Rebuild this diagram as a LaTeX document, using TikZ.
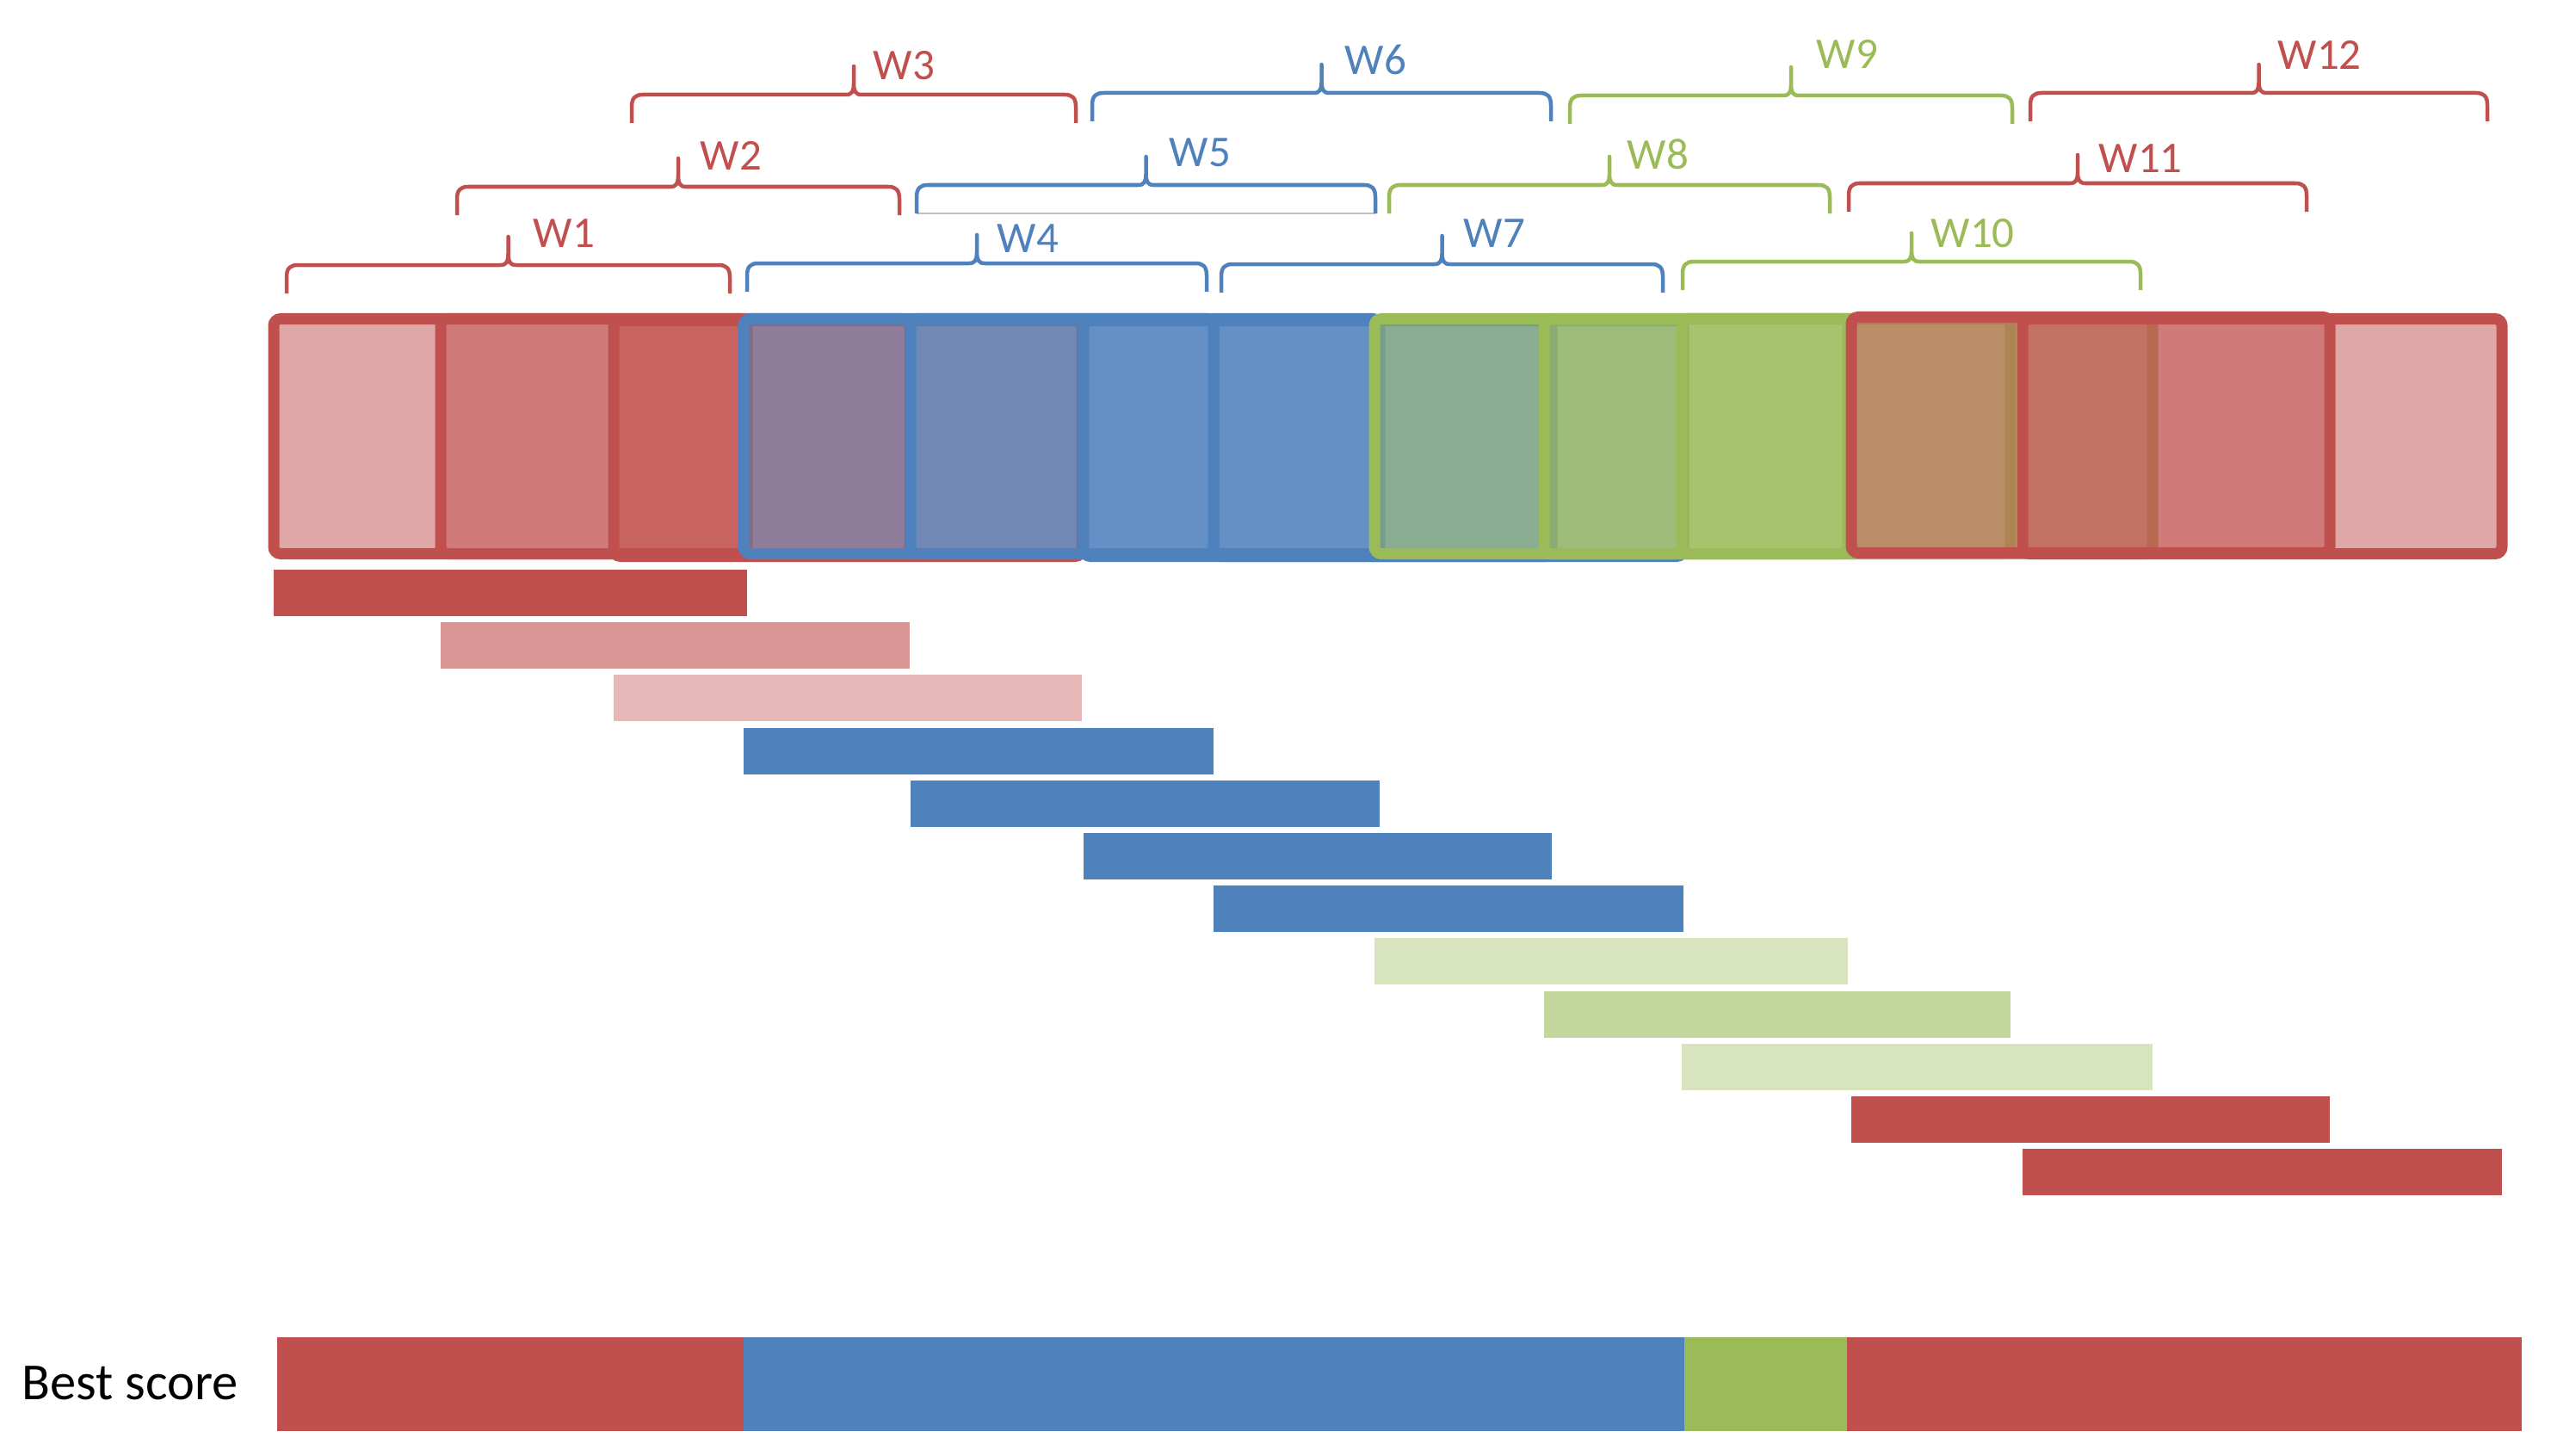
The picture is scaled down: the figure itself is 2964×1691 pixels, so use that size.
\documentclass[tikz,border=0pt]{standalone}
\usepackage{fontspec}
\setmainfont{Carlito}

\definecolor{wred}{HTML}{C0504D}
\definecolor{wblue}{HTML}{4F81BD}
\definecolor{wgreen}{HTML}{9BBB59}
\definecolor{wpink}{HTML}{D99694}
\definecolor{wpinklt}{HTML}{E6B9B8}
\definecolor{wlime}{HTML}{C3D69B}
\definecolor{wlimelt}{HTML}{D7E4BD}

\begin{document}
\begin{tikzpicture}[x=0.01cm, y=-0.01cm,
    winbox/.style={line width=0.13cm, rounded corners=0.08cm, fill opacity=0.5},
    wbrace/.style={line width=0.045cm, line join=round},
    wlabel/.style={anchor=base west, inner sep=0pt, font=\fontsize{14.5}{17}\selectfont}]
    \useasboundingbox (0,0) rectangle (2964,1691);

    % window W5 sits on a thin grey rule
    \draw[black!25, line width=0.02cm] (1065,248) -- (1598,248);

    % each window: box in the strip, bar below it, brace + label above
    \foreach \n/\col/\fil/\xa/\xb/\ya/\yb/\ka/\kb/\ky/\tx/\ty in {
        1/wred/wred/318/868/370.5/643.5/333/848/308/619/287,
        2/wred/wpink/512/1057/370.5/643.5/531/1045/217/813/198,
        3/wred/wpinklt/713/1257/372.5/646.5/734/1250/110/1014/93,
        4/wblue/wblue/864/1410/370.5/643.5/868/1402/306/1158/293,
        5/wblue/wblue/1058/1603/370.5/643.5/1065/1598/215/1358/193,
        6/wblue/wblue/1259/1803/372.5/646.5/1269/1802/108/1562/87,
        7/wblue/wblue/1410/1956/372.5/646.5/1419/1932/307/1700/287,
        8/wgreen/wlimelt/1597/2147/370.5/643.5/1614/2126/215/1890/197,
        9/wgreen/wlime/1794/2336/370.5/643.5/1824/2338/111/2110/80,
        10/wgreen/wlimelt/1954/2501/370.5/643.5/1955/2487/304/2243/287,
        11/wred/wred/2151/2707/368.5/642.5/2148/2680/213/2438/200,
        12/wred/wred/2350/2907/370.5/643.5/2359/2890/108/2646/81} {
        \pgfmathsetmacro\bt{662+(\n-1)*61.2}
        \pgfmathsetmacro\tip{(\ka+\kb)/2}
        \draw[winbox, draw=\col, fill=\col] (\xa,\ya) rectangle (\xb,\yb);
        \fill[\fil] (\xa,\bt) rectangle (\xb,\bt+54);
        \draw[wbrace, \col] (\ka,\ky+33) -- (\ka,\ky+14) .. controls (\ka,\ky+4) and (\ka+4,\ky) .. (\ka+13,\ky)
            -- (\tip-9,\ky) .. controls (\tip-2,\ky) and (\tip,\ky-4) .. (\tip,\ky-13) -- (\tip,\ky-33)
            -- (\tip,\ky-13) .. controls (\tip,\ky-4) and (\tip+2,\ky) .. (\tip+9,\ky)
            -- (\kb-13,\ky) .. controls (\kb-4,\ky) and (\kb,\ky+4) .. (\kb,\ky+14) -- (\kb,\ky+33);
        \node[wlabel, text=\col] (W\n) at (\tx,\ty) {W\n};
    }

    % best score row
    \fill[wred] (322,1554) rectangle (864,1663);
    \fill[wblue] (864,1554) rectangle (1957,1663);
    \fill[wgreen] (1957,1554) rectangle (2146,1663);
    \fill[wred] (2146,1554) rectangle (2930,1663);
    \node[anchor=base west, inner sep=0pt, font=\fontsize{17.2}{20}\selectfont] (best) at (25,1626) {Best score};
\end{tikzpicture}
\end{document}
